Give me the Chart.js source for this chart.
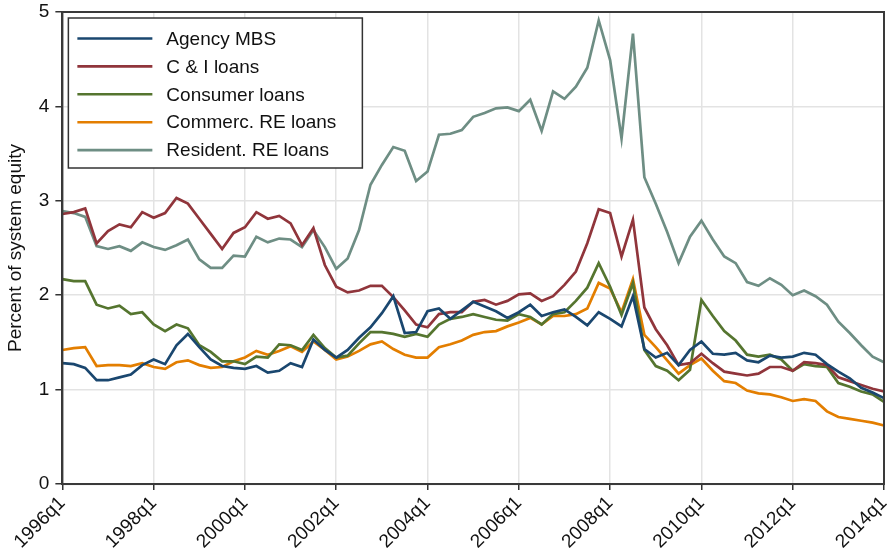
<!DOCTYPE html>
<html><head><meta charset="utf-8">
<script src="https://cdn.jsdelivr.net/npm/chart.js@4/dist/chart.umd.min.js"></script>
<style>html,body{margin:0;padding:0;background:#fff;}#wrap{width:888px;height:555px;position:relative;}</style>
</head><body><div id="wrap"><canvas id="c" width="888" height="555"></canvas></div>
<script>
const quarters = [];
for (let y = 1996; y <= 2014; y++) for (let q = 1; q <= 4; q++) { if (y === 2014 && q > 1) break; quarters.push(y + 'q' + q); }
const tickLabels = ['1996q1','1998q1','2000q1','2002q1','2004q1','2006q1','2008q1','2010q1','2012q1','2014q1'];
const yTicks = [0,1,2,3,4,5];
const seriesNames = ['Agency MBS','C & I loans','Consumer loans','Commerc. RE loans','Resident. RE loans'];

const agencyMBS = [1.28,1.27,1.23,1.10,1.10,1.13,1.16,1.26,1.32,1.27,1.47,1.59,
  1.45,1.32,1.25,1.23,1.22,1.25,1.18,1.20,1.28,1.24,1.53,1.42,
  1.34,1.42,1.55,1.66,1.81,1.99,1.60,1.61,1.83,1.86,1.75,1.84,
  1.93,1.88,1.83,1.76,1.82,1.90,1.78,1.82,1.85,1.77,1.68,1.82,
  1.75,1.67,1.99,1.43,1.34,1.39,1.26,1.42,1.51,1.38,1.37,1.39,
  1.31,1.29,1.36,1.34,1.35,1.39,1.37,1.27,1.19,1.12,1.02,0.97,0.91];
const ciLoans = [2.86,2.88,2.92,2.55,2.68,2.75,2.72,2.88,2.82,2.87,3.03,2.97,
  2.81,2.65,2.49,2.66,2.72,2.88,2.81,2.84,2.76,2.53,2.71,2.32,
  2.09,2.03,2.05,2.10,2.10,1.98,1.84,1.69,1.66,1.80,1.82,1.82,
  1.93,1.95,1.90,1.94,2.01,2.02,1.94,1.99,2.11,2.25,2.55,2.91,
  2.87,2.41,2.80,1.87,1.64,1.47,1.26,1.28,1.38,1.28,1.19,1.17,
  1.15,1.17,1.24,1.24,1.20,1.29,1.28,1.26,1.13,1.09,1.05,1.01,0.98];
const consumerLoans = [2.17,2.15,2.15,1.90,1.86,1.89,1.80,1.82,1.69,1.62,1.69,1.65,
  1.47,1.40,1.30,1.30,1.27,1.35,1.34,1.48,1.47,1.42,1.58,1.44,
  1.34,1.36,1.49,1.61,1.61,1.59,1.56,1.59,1.56,1.69,1.75,1.77,
  1.80,1.77,1.74,1.73,1.80,1.77,1.69,1.80,1.82,1.94,2.08,2.34,
  2.09,1.79,2.13,1.42,1.25,1.20,1.10,1.21,1.95,1.78,1.62,1.52,
  1.37,1.35,1.37,1.32,1.20,1.27,1.25,1.24,1.07,1.03,0.98,0.95,0.87];
const commercRE = [1.42,1.44,1.45,1.25,1.26,1.26,1.25,1.28,1.24,1.22,1.29,1.31,
  1.26,1.23,1.24,1.30,1.34,1.41,1.37,1.41,1.46,1.40,1.51,1.42,
  1.32,1.35,1.41,1.48,1.51,1.43,1.37,1.34,1.34,1.45,1.48,1.52,
  1.58,1.61,1.62,1.67,1.71,1.76,1.69,1.78,1.78,1.80,1.86,2.13,
  2.07,1.82,2.17,1.58,1.45,1.31,1.17,1.26,1.33,1.20,1.09,1.07,
  0.99,0.96,0.95,0.92,0.88,0.90,0.88,0.77,0.71,0.69,0.67,0.65,0.62];
const residentRE = [2.89,2.87,2.83,2.52,2.49,2.52,2.47,2.56,2.51,2.48,2.53,2.59,
  2.38,2.29,2.29,2.42,2.41,2.62,2.56,2.60,2.59,2.51,2.69,2.51,
  2.28,2.39,2.69,3.17,3.38,3.57,3.53,3.21,3.31,3.70,3.71,3.75,
  3.89,3.93,3.98,3.99,3.95,4.07,3.74,4.16,4.08,4.21,4.41,4.91,
  4.49,3.66,4.77,3.25,2.97,2.67,2.34,2.62,2.79,2.59,2.41,2.34,
  2.14,2.10,2.18,2.11,2.00,2.05,1.99,1.90,1.72,1.60,1.47,1.35,1.29];

const seriesData = [agencyMBS, ciLoans, consumerLoans, commercRE, residentRE];
const seriesColors = ['#1a476f','#90353b','#55752f','#e37e00','#6e8e84'];
const FONT = '"Liberation Sans", Arial, Helvetica, sans-serif';

const frameAndLegend = {
  id: 'frameAndLegend',
  afterDatasetsDraw(chart) {
    const ctx = chart.ctx, a = chart.chartArea;
    ctx.save();
    ctx.strokeStyle = '#3a3a3a';
    ctx.lineWidth = 2;
    ctx.strokeRect(a.left, a.top, a.right - a.left, a.bottom - a.top);
    const bx = a.left + 6, by = a.top + 6, bw = 294, bh = 150;
    ctx.fillStyle = '#fff';
    ctx.fillRect(bx, by, bw, bh);
    ctx.strokeStyle = '#333';
    ctx.lineWidth = 1.5;
    ctx.strokeRect(bx, by, bw, bh);
    ctx.font = '19px ' + FONT;
    ctx.textBaseline = 'middle';
    ctx.textAlign = 'left';
    chart.data.datasets.forEach((ds, i) => {
      const yy = by + 20.5 + i * 27.9;
      ctx.strokeStyle = ds.borderColor;
      ctx.lineWidth = 2.6;
      ctx.beginPath();
      ctx.moveTo(bx + 9, yy);
      ctx.lineTo(bx + 84, yy);
      ctx.stroke();
      ctx.fillStyle = '#111';
      ctx.fillText(ds.label, bx + 98, yy + 1);
    });
    ctx.restore();
  }
};

new Chart(document.getElementById('c'), {
  type: 'line',
  data: {
    labels: quarters,
    datasets: seriesNames.map((n, i) => ({
      label: n,
      data: seriesData[i],
      borderColor: seriesColors[i],
      backgroundColor: seriesColors[i],
      borderWidth: 2.7,
      pointRadius: 0,
      tension: 0,
      fill: false
    }))
  },
  options: {
    responsive: false,
    devicePixelRatio: 1,
    animation: false,
    layout: { padding: { top: 12, right: 4, left: 4, bottom: 0 } },
    plugins: { legend: { display: false }, tooltip: { enabled: false } },
    scales: {
      x: {
        type: 'category',
        offset: false,
        afterFit: (s) => { s.paddingRight = 0; },
        grid: { color: '#e3e3e3', lineWidth: 1.5, tickColor: '#333', tickLength: 6, tickWidth: 1.5, offset: false },
        border: { display: true, color: '#333', width: 2 },
        ticks: {
          autoSkip: false, maxRotation: 45, minRotation: 45, padding: 2,
          color: '#111', font: { size: 19, family: FONT },
          callback: function (v, i) { const l = quarters[i]; return tickLabels.includes(l) ? l : null; }
        }
      },
      y: {
        min: 0, max: 5,
        afterFit: (s) => { s.paddingTop = 0; s.paddingBottom = 0; },
        afterBuildTicks: (s) => { s.ticks = yTicks.map(v => ({ value: v })); },
        grid: { color: '#e3e3e3', lineWidth: 1.5, tickColor: '#333', tickLength: 7, tickWidth: 1.5 },
        border: { display: true, color: '#333', width: 2 },
        ticks: { color: '#111', font: { size: 19, family: FONT }, padding: 6 },
        title: { display: true, text: 'Percent of system equity', color: '#111', font: { size: 19, family: FONT }, padding: { top: 0, bottom: 6 } }
      }
    }
  },
  plugins: [frameAndLegend]
});
</script></body></html>
